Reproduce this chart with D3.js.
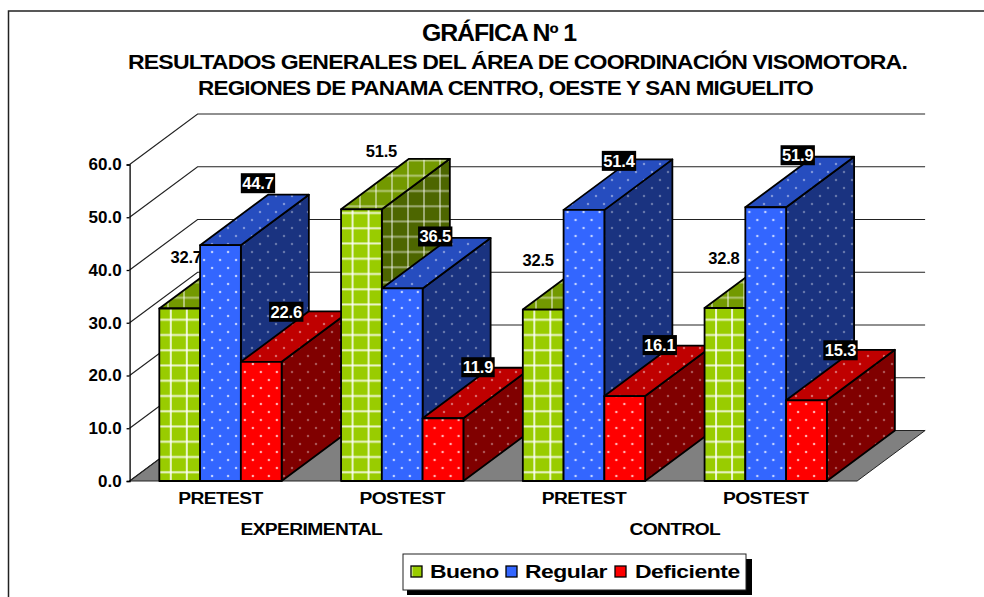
<!DOCTYPE html>
<html><head><meta charset="utf-8">
<script src="https://cdn.jsdelivr.net/npm/d3@7/dist/d3.min.js"></script>
<style>
html,body{margin:0;padding:0;background:#fff}
svg{display:block}
text{font-family:"Liberation Sans",Arial,sans-serif;font-weight:bold;fill:#000}
</style></head><body><div id="c"></div>
<script>
const categories = ["PRETEST","POSTEST","PRETEST ","POSTEST "];
const groupLabels = ["EXPERIMENTAL","CONTROL"];
const seriesNames = ["Bueno","Regular","Deficiente"];
const bueno = [32.7,51.5,32.5,32.8];
const regular = [44.7,36.5,51.4,51.9];
const deficiente = [22.6,11.9,16.1,15.3];
const yTicks = [0,10,20,30,40,50,60];
const titleLines = ["GRÁFICA Nº 1","RESULTADOS GENERALES DEL ÁREA DE COORDINACIÓN VISOMOTORA.","REGIONES DE PANAMA CENTRO, OESTE Y SAN MIGUELITO"];
// hand-placed label nudges, relative to the bar's top-front centre
const labelNudgeX = [[6.5,20,-5,-1],[37.5,33,35,32],[25,35,35,34]];
const labelNudgeY = [[-51,-58,-50,-50],[-62,-52,-49,-52],[-50,-51,-51,-50]];

const W=984,H=597,DX=68,DY=-50.5;
const svg=d3.select("#c").append("svg").attr("width",W).attr("height",H);
const values=[bueno,regular,deficiente];
const y=d3.scaleLinear().domain([0,60]).range([481,164.5]);
const x0=d3.scaleBand().domain(categories).range([129.6,856.6]).paddingInner(0.327).paddingOuter(0.1635);
const x1=d3.scaleBand().domain(seriesNames).range([0,x0.bandwidth()]);
// horizontally widen a text by the given factor, as the source's stretched bold type
const stretch=(sel,f)=>sel.each(function(){
  const n=this.getComputedTextLength();
  d3.select(this).attr("textLength",f*n).attr("lengthAdjust","spacingAndGlyphs");
});

const palette={
 Bueno:{front:"#99cc00",top:"#739900",side:"#4d6600",kind:"grid"},
 Regular:{front:"#3366ff",top:"#264dbf",side:"#1a3380",kind:"dot"},
 Deficiente:{front:"#ff0000",top:"#bf0000",side:"#800000",kind:"dot"}
};
const faceAlpha={front:.7,top:.4,side:.33};
const defs=svg.append("defs");
seriesNames.forEach(s=>{
  Object.keys(faceAlpha).forEach(f=>{
    const p=palette[s], a=faceAlpha[f];
    const pat=defs.append("pattern").attr("id",`${s}-${f}`).attr("patternUnits","userSpaceOnUse");
    if(p.kind==="grid"){
      pat.attr("width",16).attr("height",15.25);
      if(f==="front") pat.attr("x",3.5).attr("y",6.75);
      pat.append("rect").attr("width",16).attr("height",15.25).attr("fill",p[f]);
      pat.append("rect").attr("x",7).attr("width",2).attr("height",15.25).attr("fill","#fff").attr("fill-opacity",f==="front"?.8:.45);
      pat.append("rect").attr("y",7).attr("width",16).attr("height",2).attr("fill","#fff").attr("fill-opacity",f==="front"?.8:.45);
    }else{
      pat.attr("width",16).attr("height",16);
      pat.append("rect").attr("width",16).attr("height",16).attr("fill",p[f]);
      [[4,4],[12,12]].forEach(d=>pat.append("circle").attr("cx",d[0]).attr("cy",d[1]).attr("r",1.25).attr("fill","#fff").attr("fill-opacity",a));
    }
  });
});

// frame
svg.append("path").attr("d",`M8.5 ${H}V11H${W}`).attr("fill","none").attr("stroke","#222").attr("stroke-width",1.5);

// titles
svg.append("text").attr("x",422).attr("y",41).attr("font-size",23).attr("letter-spacing",-1).attr("textLength",154).attr("lengthAdjust","spacingAndGlyphs").text(titleLines[0]);
svg.append("text").attr("x",128).attr("y",69).attr("font-size",20).attr("letter-spacing",-0.7).attr("textLength",779).attr("lengthAdjust","spacingAndGlyphs").text(titleLines[1]);
svg.append("text").attr("x",198).attr("y",95).attr("font-size",20).attr("letter-spacing",-0.7).attr("textLength",615).attr("lengthAdjust","spacingAndGlyphs").text(titleLines[2]);

// floor
const xa=x0.range()[0], xb=x0.range()[1]+0.5;
svg.append("path").attr("d",`M${xa} ${y(0)}L${xa+DX} ${y(0)+DY}H${xb+DX}L${xb} ${y(0)}Z`).attr("fill","#808080").attr("stroke","#222").attr("stroke-width",1);

// gridlines and walls
const grid=svg.append("g").attr("fill","none").attr("stroke","#222").attr("stroke-width",1.2);
yTicks.forEach(t=>{
  grid.append("path").attr("d",`M${xa} ${y(t)}L${xa+DX} ${y(t)+DY}H${xb+DX}`);
});

// axis
const axis=svg.append("g").attr("transform",`translate(${xa},0)`)
  .call(d3.axisLeft(y).tickValues(yTicks).tickFormat(d3.format(".1f")).tickSize(3).tickPadding(5));
axis.selectAll("path,line").attr("stroke","#000").attr("stroke-width",1.3);
axis.selectAll("text").attr("font-size",17).attr("font-family",'"Liberation Sans",Arial,sans-serif').attr("font-weight","bold").attr("fill","#000");

// bars
const bars=svg.append("g");
categories.forEach((c,i)=>{
  seriesNames.forEach((s,j)=>{
    const v=values[j][i], bx=x0(c)+x1(s), bw=x1.bandwidth(), ty=y(v), by=y(0);
    const g=bars.append("g").attr("stroke","#000").attr("stroke-width",1.8).attr("stroke-linejoin","round");
    g.append("path").attr("d",`M${bx+bw} ${ty}l${DX} ${DY}V${by+DY}L${bx+bw} ${by}Z`).attr("fill",`url(#${s}-side)`);
    g.append("path").attr("d",`M${bx} ${ty}l${DX} ${DY}h${bw}l${-DX} ${-DY}Z`).attr("fill",`url(#${s}-top)`);
    // front face: the pattern is anchored to the left edge of its own bar
    g.append("rect").attr("transform",`translate(${bx},0)`).attr("x",0).attr("y",ty).attr("width",bw).attr("height",by-ty).attr("fill",`url(#${s}-front)`);
    // value label
    const lx=bx+bw/2+labelNudgeX[j][i], ly=ty+labelNudgeY[j][i];
    const lg=bars.append("g");
    const txt=lg.append("text").attr("x",lx).attr("y",ly).attr("dy",".36em").attr("text-anchor","middle")
      .attr("font-size",16.5).attr("letter-spacing",-0.2).text(v.toFixed(1));
    if(s!=="Bueno"){
      const w=txt.node().getComputedTextLength()+3;
      lg.insert("rect","text").attr("x",lx-w/2).attr("y",ly-10).attr("width",w).attr("height",20).attr("fill","#000");
      txt.style("fill","#fff");
    }
  });
});

// category labels
svg.append("g").selectAll("text").data(categories).join("text")
  .attr("x",d=>x0(d)+x0.bandwidth()/2).attr("y",504).attr("text-anchor","middle")
  .attr("font-size",16).attr("letter-spacing",-0.5).text(d=>d.trim()).call(stretch,1.2);
svg.append("g").selectAll("text").data(groupLabels).join("text")
  .attr("x",(d,i)=>(x0(categories[i*2])+x0(categories[i*2+1])+x0.bandwidth())/2).attr("y",535).attr("text-anchor","middle")
  .attr("font-size",16).attr("letter-spacing",-0.5).text(d=>d).call(stretch,1.2);

// legend
const lg=svg.append("g");
lg.append("rect").attr("x",407).attr("y",559).attr("width",345).attr("height",36).attr("fill","#000");
lg.append("rect").attr("x",403).attr("y",554).attr("width",343).attr("height",36).attr("fill","#fff").attr("stroke","#222").attr("stroke-width",1);
const keyX=[411,506,615], textX=[430,525,635];
seriesNames.forEach((s,i)=>{
  lg.append("rect").attr("x",keyX[i]).attr("y",566).attr("width",11).attr("height",11).attr("fill",s==="Bueno"?"url(#Bueno-front)":palette[s].front).attr("stroke","#000").attr("stroke-width",1.3);
  lg.append("text").attr("x",textX[i]).attr("y",578).attr("font-size",18.5).attr("letter-spacing",-0.4).text(s).call(stretch,1.24);
});
</script></body></html>
